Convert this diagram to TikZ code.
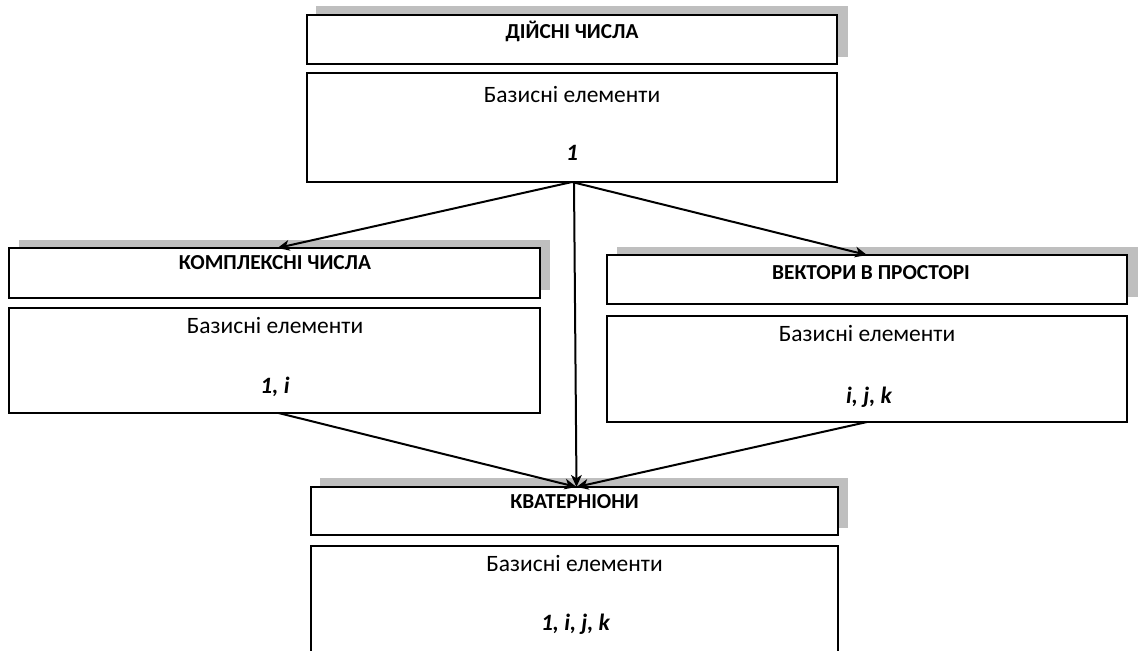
\documentclass[tikz,border=0pt]{standalone}
\usepackage{fontspec}
\setmainfont{Carlito}
\usetikzlibrary{arrows.meta}
\definecolor{shadowgray}{RGB}{191,191,191}
\tikzset{
  box/.style={draw=black, line width=1.5pt, fill=white, rectangle, inner sep=0pt, outer sep=0pt, anchor=north west},
  titletext/.style={font=\fontsize{16}{19}\selectfont\bfseries, inner sep=0pt},
  basistext/.style={font=\fontsize{17.6}{21}\selectfont, inner sep=0pt},
  valtext/.style={font=\fontsize{17.6}{21}\selectfont\bfseries\itshape, inner sep=0pt},
  conn/.style={line width=1.5pt, -{Stealth[length=9pt,width=8pt,inset=2.5pt]}},
}
\begin{document}
\begin{tikzpicture}[x=0.75pt, y=-0.75pt]
\useasboundingbox (0,0) rectangle (1139,650);
% shadows
\fill[shadowgray] (316,6) rectangle (848,57);
\fill[shadowgray] (19,240) rectangle (550,290);
\fill[shadowgray] (617,247) rectangle (1138,297);
\fill[shadowgray] (320,478) rectangle (848,528);
% top
\node[box, minimum width={530*0.75pt}, minimum height={49*0.75pt}] (rt) at (307,15) {};
\node[titletext] (rtt) at (572,31) {ДІЙСНІ ЧИСЛА};
\node[box, minimum width={530*0.75pt}, minimum height={109*0.75pt}] (rc) at (307,73) {};
\node[basistext] (rcb) at (572,95) {Базисні елементи};
\node[valtext] (rcv) at (572,153) {1};
% left
\node[box, minimum width={531*0.75pt}, minimum height={50*0.75pt}] (ct) at (9,248) {};
\node[titletext] (ctt) at (275,263) {КОМПЛЕКСНІ ЧИСЛА};
\node[box, minimum width={531*0.75pt}, minimum height={105*0.75pt}] (cc) at (9,308) {};
\node[basistext] (ccb) at (275,326) {Базисні елементи};
\node[valtext] (ccv) at (275,387) {1, i};
% right
\node[box, minimum width={520*0.75pt}, minimum height={49*0.75pt}] (vt) at (607,255) {};
\node[titletext] (vtt) at (871,273) {ВЕКТОРИ В ПРОСТОРІ};
\node[box, minimum width={520*0.75pt}, minimum height={106*0.75pt}] (vc) at (607,316) {};
\node[basistext] (vcb) at (867,334) {Базисні елементи};
\node[valtext] (vcv) at (869,397) {i, j, k};
% bottom
\node[box, minimum width={527*0.75pt}, minimum height={48*0.75pt}] (qt) at (311,487) {};
\node[titletext] (qtt) at (574.5,502) {КВАТЕРНІОНИ};
\node[box, minimum width={527*0.75pt}, minimum height={120*0.75pt}] (qc) at (311,546) {};
\node[basistext] (qcb) at (574.5,564) {Базисні елементи};
\node[valtext] (qcv) at (575.5,624) {1, i, j, k};
% connectors
\draw[conn] (rc.south) -- ([xshift=3*0.75pt]ct.north);
\draw[conn] (rc.south) -- (vt.north);
\draw[conn] ([xshift=1.5pt]rc.south) -- ([xshift=2*0.75pt]qt.north);
\draw[conn] ([xshift=4*0.75pt]cc.south) -- ([xshift=2*0.75pt]qt.north);
\draw[conn] (vc.south) -- ([xshift=2*0.75pt]qt.north);
\end{tikzpicture}
\end{document}
